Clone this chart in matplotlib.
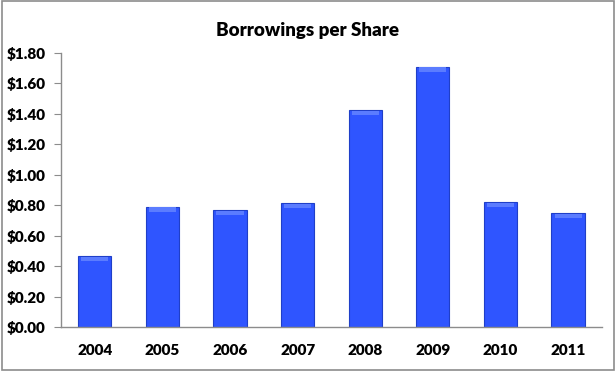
import matplotlib
matplotlib.use("Agg")
import matplotlib.pyplot as plt
from matplotlib.patches import Rectangle
from matplotlib.ticker import FuncFormatter

years = ["2004", "2005", "2006", "2007", "2008", "2009", "2010", "2011"]
borrowings = [0.466, 0.79, 0.77, 0.815, 1.426, 1.71, 0.82, 0.75]

plt.rcParams["font.family"] = ["Lato", "DejaVu Sans"]

fig = plt.figure(figsize=(6.16, 3.73), dpi=100)
fig.patches.append(Rectangle((0.003, 0.008), 0.993, 0.988, transform=fig.transFigure,
                             fill=False, edgecolor="#8c8c8c", linewidth=1.2))
ax = fig.add_axes([0.099, 0.1233, 0.878, 0.7347])

x = list(range(len(years)))
ax.bar(x, borrowings, width=0.49, color="#2f55ff", edgecolor="#1f3fc8", linewidth=0.8,
       zorder=2)
# light bevel strip along the top of each bar
bevel = 0.03
ax.bar(x, [bevel] * len(x), bottom=[v - bevel - 0.005 for v in borrowings], width=0.40,
       color="#5b7cff", linewidth=0, zorder=3)

ax.set_xlim(-0.5, len(years) - 0.5)
ax.set_ylim(0, 1.8)
ax.set_yticks([i * 0.2 for i in range(10)])
ax.yaxis.set_major_formatter(FuncFormatter(lambda v, _: f"${v:.2f}"))
ax.set_xticks(x)
ax.set_xticklabels(years)

for side in ("top", "right"):
    ax.spines[side].set_visible(False)
for side in ("left", "bottom"):
    ax.spines[side].set_color("#8c8c8c")
    ax.spines[side].set_linewidth(1.0)

ax.tick_params(axis="y", length=5, color="#8c8c8c", labelsize=11, pad=6)
ax.tick_params(axis="x", length=0, labelsize=11, pad=12)
for lbl in ax.get_xticklabels() + ax.get_yticklabels():
    lbl.set_fontweight("heavy")

fig.text(0.5, 0.918, "Borrowings per Share", ha="center", va="center",
         fontsize=13.5, fontweight="heavy")

fig.savefig("out.png", dpi=100)
